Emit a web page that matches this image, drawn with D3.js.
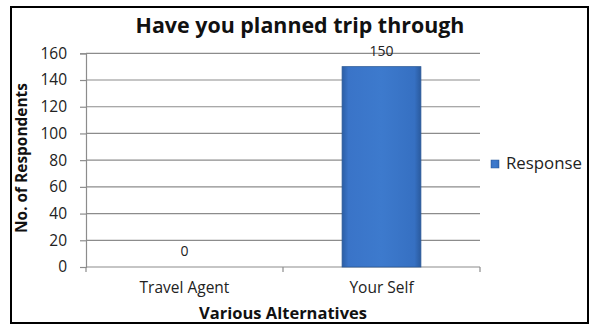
<!DOCTYPE html>
<html>
<head>
<meta charset="utf-8">
<script src="https://cdn.jsdelivr.net/npm/d3@7"></script>
<style>
  html, body { margin: 0; padding: 0; background: #fff; }
  svg { display: block; }
</style>
</head>
<body>
<svg id="chart" width="595" height="325"></svg>
<script>
// Survey responses: how the trip was planned
const categories = ["Travel Agent", "Your Self"];
const responses = [0, 150];
const yTicks = [0, 20, 40, 60, 80, 100, 120, 140, 160];
const seriesName = "Response";
const chartTitle = "Have you planned trip through";
const xTitle = "Various Alternatives";
const yTitle = "No. of Respondents";

const svg = d3.select("#chart");
const font = "'Open Sans', sans-serif";

// Scale a text node's font size so it spans the given width
function fitWidth(sel, width) {
  sel.each(function () {
    const base = parseFloat(this.getAttribute("font-size"));
    const w = this.getComputedTextLength();
    if (w > 0) this.setAttribute("font-size", (base * width / w).toFixed(2));
  });
  return sel;
}

// Outer frame
svg.append("rect")
  .attr("x", 11).attr("y", 7).attr("width", 577).attr("height", 316)
  .attr("fill", "#fff").attr("stroke", "#000").attr("stroke-width", 2);

const plot = { left: 86, right: 480, top: 53.3, bottom: 267 };

const x = d3.scaleBand().domain(categories)
  .range([plot.left, plot.right]).paddingInner(0).paddingOuter(0);
const y = d3.scaleLinear().domain([0, 160]).range([plot.bottom, plot.top]);

// Bar gradient
const defs = svg.append("defs");
const grad = defs.append("linearGradient").attr("id", "barGrad")
  .attr("x1", "0").attr("x2", "1").attr("y1", "0").attr("y2", "0");
grad.append("stop").attr("offset", "0").attr("stop-color", "#2b5ea6");
grad.append("stop").attr("offset", "0.08").attr("stop-color", "#3a74c8");
grad.append("stop").attr("offset", "0.5").attr("stop-color", "#3d7acd");
grad.append("stop").attr("offset", "0.92").attr("stop-color", "#3670c2");
grad.append("stop").attr("offset", "1").attr("stop-color", "#2a5a9e");

// Gridlines
svg.append("g").selectAll("line").data(yTicks.filter(d => d > 0)).join("line")
  .attr("x1", plot.left).attr("x2", plot.right)
  .attr("y1", d => y(d)).attr("y2", d => y(d))
  .attr("stroke", "#8c8c8c").attr("stroke-width", 1.2);

// Y axis
const yAxis = svg.append("g").attr("transform", `translate(${plot.left},0)`)
  .call(d3.axisLeft(y).tickValues(yTicks).tickSize(6).tickPadding(13));
yAxis.select(".domain").attr("stroke", "#8c8c8c").attr("stroke-width", 1.2);
yAxis.selectAll(".tick line").attr("stroke", "#8c8c8c").attr("stroke-width", 1.2);
yAxis.selectAll(".tick text")
  .attr("font-family", font).attr("font-size", 15.5).attr("fill", "#222");

// X axis with tick marks at category boundaries
const xAxisG = svg.append("g").attr("transform", `translate(0,${plot.bottom})`);
xAxisG.append("line").attr("x1", plot.left).attr("x2", plot.right)
  .attr("stroke", "#8c8c8c").attr("stroke-width", 1.2);
const bounds = [plot.left, ...categories.map(c => x(c) + x.bandwidth())];
xAxisG.selectAll("line.tk").data(bounds).join("line").attr("class", "tk")
  .attr("x1", d => d).attr("x2", d => d).attr("y1", 0).attr("y2", 5)
  .attr("stroke", "#8c8c8c").attr("stroke-width", 1.2);
xAxisG.selectAll("text").data(categories).join("text")
  .attr("x", d => x(d) + x.bandwidth() / 2).attr("y", 26)
  .attr("text-anchor", "middle")
  .attr("font-family", font).attr("font-size", 15.5).attr("fill", "#222")
  .text(d => d);

// Bars
const barW = x.bandwidth() * 0.4;
svg.append("g").selectAll("rect").data(categories).join("rect")
  .attr("x", d => x(d) + (x.bandwidth() - barW) / 2)
  .attr("width", barW)
  .attr("y", (d, i) => y(responses[i]))
  .attr("height", (d, i) => y(0) - y(responses[i]))
  .attr("fill", "url(#barGrad)")
  .attr("stroke", "#2a5896").attr("stroke-width", 0.8);

// Value labels
svg.append("g").selectAll("text").data(categories).join("text")
  .attr("x", d => x(d) + x.bandwidth() / 2)
  .attr("y", (d, i) => y(responses[i]) - 11)
  .attr("text-anchor", "middle")
  .attr("font-family", font).attr("font-size", 14).attr("fill", "#222")
  .text((d, i) => responses[i]);

// Title
fitWidth(svg.append("text").attr("x", 300).attr("y", 33).attr("text-anchor", "middle")
  .attr("font-family", font).attr("font-weight", "bold").attr("font-size", 20)
  .attr("fill", "#111").text(chartTitle), 329);

// Axis titles
fitWidth(svg.append("text").attr("x", 283).attr("y", 319).attr("text-anchor", "middle")
  .attr("font-family", font).attr("font-weight", "bold").attr("font-size", 15)
  .attr("fill", "#111").text(xTitle), 168);
fitWidth(svg.append("text")
  .attr("transform", "translate(27,158) rotate(-90)")
  .attr("text-anchor", "middle")
  .attr("font-family", font).attr("font-weight", "bold").attr("font-size", 14)
  .attr("fill", "#111").text(yTitle), 150);

// Legend
const lg = svg.append("g").attr("transform", "translate(491,164)");
lg.append("rect").attr("x", 0).attr("y", -4).attr("width", 8).attr("height", 8)
  .attr("fill", "url(#barGrad)").attr("stroke", "#2a5896").attr("stroke-width", 0.5);
fitWidth(lg.append("text").attr("x", 15).attr("y", 5)
  .attr("font-family", font).attr("font-size", 15).attr("fill", "#222")
  .text(seriesName), 76);
</script>
</body>
</html>
